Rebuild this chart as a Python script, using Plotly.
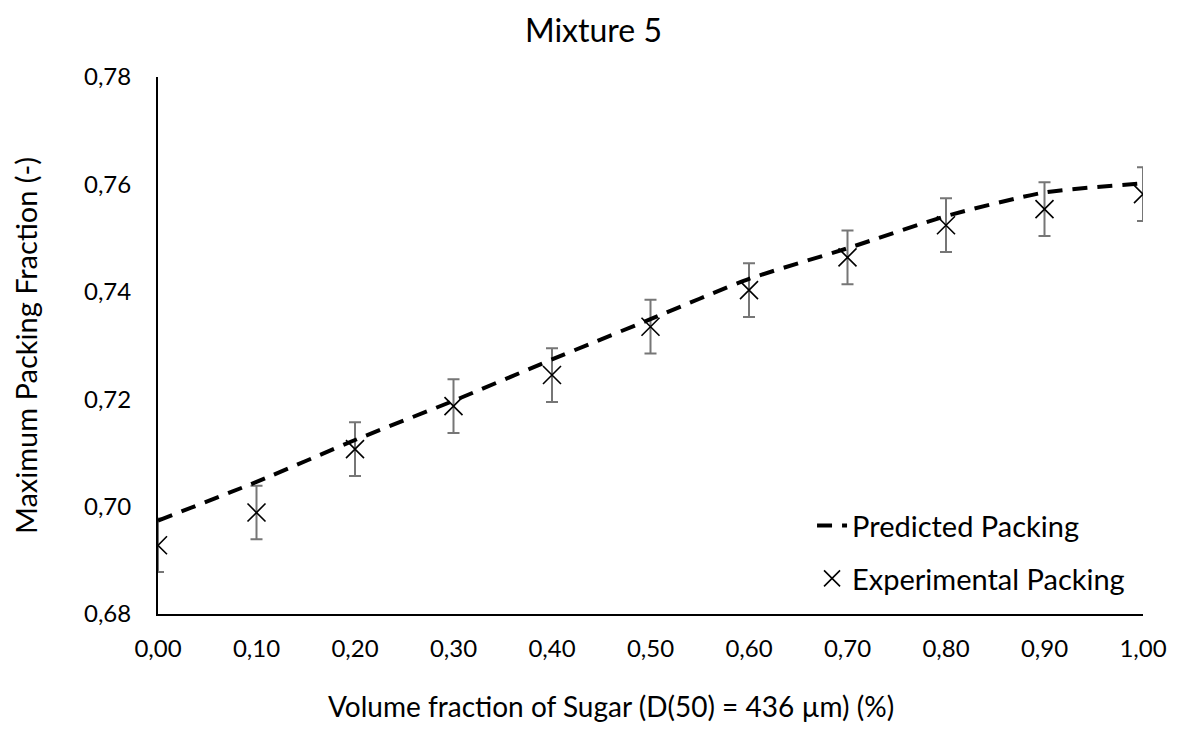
import plotly.graph_objects as go

x_vals = [0.0, 0.1, 0.2, 0.3, 0.4, 0.5, 0.6, 0.7, 0.8, 0.9, 1.0]
predicted = [0.6974, 0.7046, 0.7124, 0.7197, 0.7274, 0.7349, 0.7424, 0.7481, 0.7541, 0.7585, 0.7602]
experimental = [0.6928, 0.6989, 0.7107, 0.7187, 0.7245, 0.7335, 0.7403, 0.7464, 0.7524, 0.7554, 0.7582]
exp_error = [0.005] * 11

font_family = "Lato, Liberation Sans, sans-serif"

fig = go.Figure()
fig.add_trace(go.Scatter(
    x=x_vals, y=experimental, mode="markers", name="Experimental Packing", legend="legend2",
    marker=dict(symbol="x-thin-open", size=18, color="black", line=dict(color="black", width=1.6)),
    error_y=dict(type="data", array=exp_error, visible=True, color="#767676", thickness=2, width=6),
))
fig.add_trace(go.Scatter(
    x=x_vals, y=predicted, mode="lines", name="Predicted Packing", legend="legend",
    line=dict(color="black", width=4, dash="15px,10px", shape="spline", smoothing=0.6),
))

leg_font = dict(size=29, family=font_family, color="black")

fig.update_layout(
    width=1171, height=723,
    paper_bgcolor="white", plot_bgcolor="white",
    separators=", ",
    font=dict(family=font_family, color="black"),
    title=dict(text="Mixture 5", x=0.5, xanchor="center", y=0.969, yanchor="middle",
               font=dict(size=32, family=font_family, color="black")),
    margin=dict(l=146, r=35, t=69, b=117),
    showlegend=True,
    legend=dict(x=0.664, y=0.212, xanchor="left", yanchor="top",
                bgcolor="rgba(0,0,0,0)", font=leg_font),
    legend2=dict(x=0.664, y=0.1135, xanchor="left", yanchor="top",
                 bgcolor="rgba(0,0,0,0)", font=leg_font),
    xaxis=dict(range=[0, 1], tickvals=x_vals, tickformat=".2f", showgrid=False, zeroline=False,
               showline=True, linecolor="black", linewidth=2, ticks="outside", ticklen=0,
               ticklabelstandoff=12,
               tickfont=dict(size=24, family=font_family, color="black")),
    yaxis=dict(range=[0.68, 0.78], tickvals=[0.68, 0.70, 0.72, 0.74, 0.76, 0.78], tickformat=".2f",
               showgrid=False, zeroline=False, showline=True, linecolor="black", linewidth=2,
               ticks="outside", ticklen=0, ticklabelstandoff=20,
               tickfont=dict(size=24, family=font_family, color="black"),
               title=dict(text="Maximum Packing Fraction (-)", standoff=44,
                          font=dict(size=29, family=font_family, color="black"))),
    annotations=[dict(text="Volume fraction of Sugar (D(50) = 436 µm) (%)",
                      xref="paper", yref="paper", x=0.46, y=-0.172,
                      xanchor="center", yanchor="middle", showarrow=False,
                      font=dict(size=28, family=font_family, color="black"))],
)

fig.write_html("out.html")
